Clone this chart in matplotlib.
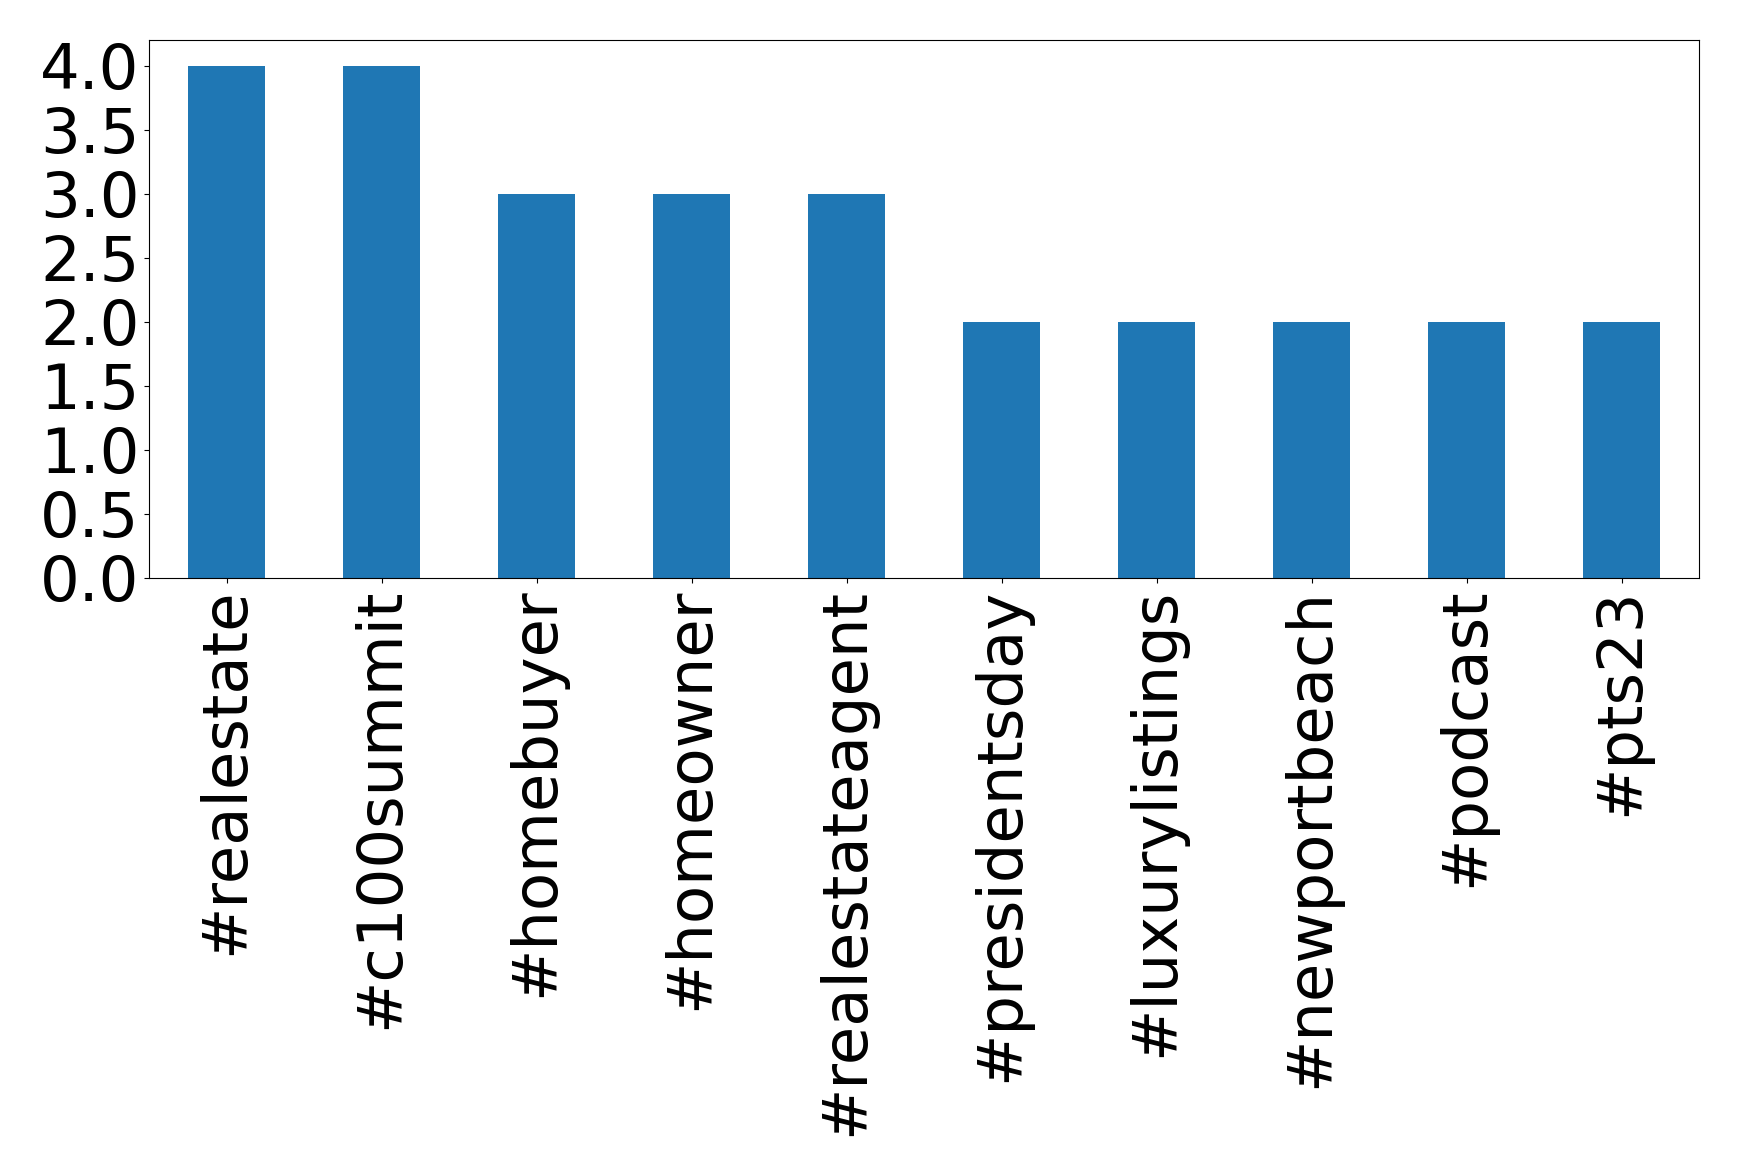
import matplotlib
matplotlib.use("Agg")
import matplotlib.pyplot as plt
import pandas as pd

# hashtag counts
hashtags = ["#realestate", "#c100summit", "#homebuyer", "#homeowner", "#realestateagent",
            "#presidentsday", "#luxurylistings", "#newportbeach", "#podcast", "#pts23"]
counts = [4, 4, 3, 3, 3, 2, 2, 2, 2, 2]

s = pd.Series(counts, index=hashtags)

fig = plt.figure(figsize=(17.39, 11.76), dpi=100)
ax = fig.add_axes([149 / 1739, 1 - 578 / 1176, 1550 / 1739, 538 / 1176])
s.plot(kind="bar", ax=ax, color="#1f77b4", fontsize=45)
ax.set_ylim(0, 4.2)

fig.savefig("out.png", dpi=100)
